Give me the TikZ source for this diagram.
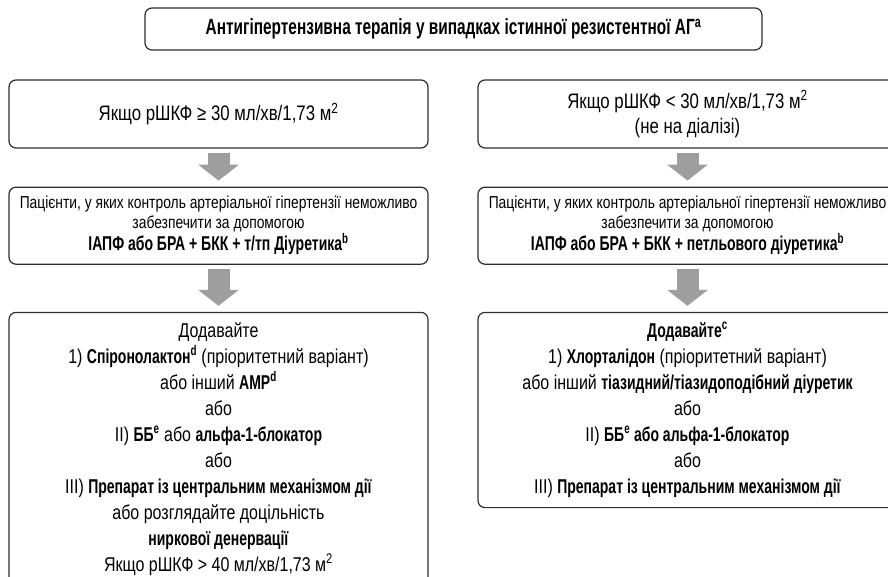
\documentclass[tikz,border=0pt]{standalone}
\usepackage{fontspec}
\setmainfont{Liberation Sans}[FakeStretch=0.8, BoldFeatures={FakeStretch=0.7}]
\usetikzlibrary{positioning,arrows.meta}
\definecolor{framegray}{RGB}{45,45,45}
\definecolor{arrowgray}{RGB}{158,158,158}

\begin{document}
\begin{tikzpicture}[x=1pt,y=-1pt,
  box/.style={draw=framegray, line width=1.2pt, rounded corners=7pt, minimum width=419pt, align=center, inner xsep=0pt},
  flow/.style={draw=arrowgray, line width=22pt, -{Triangle[width=40pt,length=16pt]}, shorten <=4pt, shorten >=6pt},
  note/.style={font=\fontsize{17.3}{20}\selectfont},
  key/.style={font=\fontsize{21}{25}\selectfont},
  list/.style={font=\fontsize{20}{26}\selectfont, inner ysep=10pt}]
\useasboundingbox (0,0) rectangle (888,576);
\clip (0,0) rectangle (888,576);

\node[box, minimum width=617pt, minimum height=42pt, font=\fontsize{22}{26}\selectfont\bfseries] (title) at (453.5,29) {Антигіпертензивна терапія у випадках істинної резистентної АГ\textsuperscript{a}};

\node[box, key, minimum height=68pt] (egfrhi) at (218.5,114) {Якщо рШКФ ≥ 30 мл/хв/1,73 м\textsuperscript{2}};
\node[box, note, minimum height=77pt, below=38pt of egfrhi] (combohi) {Пацієнти, у яких контроль артеріальної гіпертензії неможливо\\
  забезпечити за допомогою\\
  {\fontsize{20}{22}\selectfont\bfseries ІАПФ або БРА + БКК + т/тп Діуретика\textsuperscript{b}}};
\node[box, list, below=47pt of combohi] (addhi) {Додавайте\\
  1) \textbf{Спіронолактон\textsuperscript{d}} (пріоритетний варіант)\\
  або інший \textbf{АМР\textsuperscript{d}}\\
  або\\
  II) \textbf{ББ\textsuperscript{e}} або \textbf{альфа-1-блокатор}\\
  або\\
  III) \textbf{Препарат із центральним механізмом дії}\\
  або розглядайте доцільність\\
  \textbf{ниркової денервації}\\
  Якщо рШКФ > 40 мл/хв/1,73 м\textsuperscript{2}};

\node[box, key, minimum height=68pt] (egfrlo) at (687.5,114) {Якщо рШКФ < 30 мл/хв/1,73 м\textsuperscript{2}\\(не на діалізі)};
\node[box, note, minimum height=77pt, below=38pt of egfrlo] (combolo) {Пацієнти, у яких контроль артеріальної гіпертензії неможливо\\
  забезпечити за допомогою\\
  {\fontsize{20}{22}\selectfont\bfseries ІАПФ або БРА + БКК + петльового діуретика\textsuperscript{b}}};
\node[box, list, below=47pt of combolo] (addlo) {\textbf{Додавайте\textsuperscript{c}}\\
  1) \textbf{Хлорталідон} (пріоритетний варіант)\\
  або інший \textbf{тіазидний/тіазидоподібний діуретик}\\
  або\\
  II) \textbf{ББ\textsuperscript{e} або альфа-1-блокатор}\\
  або\\
  III) \textbf{Препарат із центральним механізмом дії}};

\draw[flow] (egfrhi) -- (combohi);
\draw[flow] (combohi) -- (addhi);
\draw[flow] (egfrlo) -- (combolo);
\draw[flow] (combolo) -- (addlo);
\end{tikzpicture}
\end{document}
